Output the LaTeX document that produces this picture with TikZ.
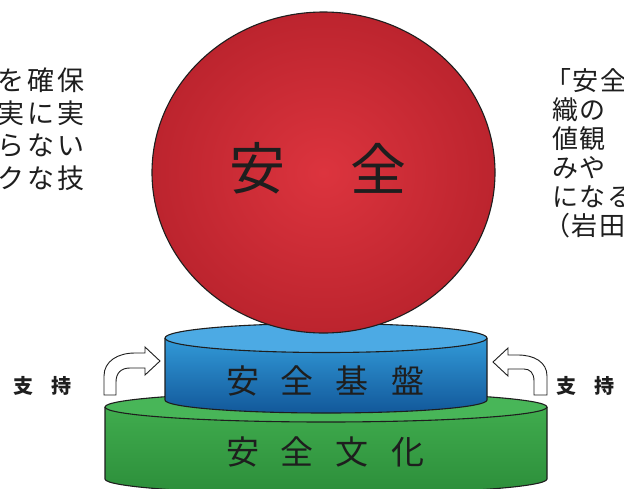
\documentclass[tikz,border=0pt]{standalone}
\usepackage{fontspec}
\newfontfamily\cjk{Noto Sans CJK JP}
\usetikzlibrary{shapes.geometric}
\definecolor{redin}{RGB}{220,52,62}
\definecolor{redout}{RGB}{188,36,46}
\definecolor{bluetop}{RGB}{76,170,228}
\definecolor{blueside1}{RGB}{50,154,216}
\definecolor{blueside2}{RGB}{18,88,154}
\definecolor{greentop}{RGB}{72,182,88}
\definecolor{greenside1}{RGB}{64,172,78}
\definecolor{greenside2}{RGB}{44,142,58}
\definecolor{ink}{RGB}{30,30,30}
\tikzset{
  outline/.style={draw=ink, line width=1.1pt},
  bigtext/.style={font=\cjk\fontsize{56}{60}\selectfont, text=ink, inner sep=0pt},
  layertext/.style={font=\cjk\fontsize{33}{36}\selectfont, text=ink, inner sep=0pt},
  lefttext/.style={font=\cjk\fontsize{27}{29}\selectfont, text=ink, inner sep=0pt},
  righttext/.style={font=\cjk\fontsize{26}{28}\selectfont, text=ink, inner sep=0pt},
  supporttext/.style={font=\cjk\bfseries\fontsize{20}{22}\selectfont, text=ink, inner sep=0pt},
  bentarrow/.style={fill=white, draw=ink, line width=0.9pt, line join=miter}
}
\newcommand{\gp}{\hspace{3pt}}
\newcommand{\gq}{\hspace{1.5pt}}
\begin{document}
\begin{tikzpicture}[x=1pt,y=-1pt]
\useasboundingbox (0,0) rectangle (624,488);
\clip (0,0) rectangle (624,488);
\fill[white] (0,0) rectangle (624,488);

% green cylinder (safety culture)
\shade[top color=greenside1, bottom color=greenside2]
  (105,407) -- (105,479) arc[start angle=180, end angle=360, x radius=221pt, y radius=15pt] -- (547,407) -- cycle;
\draw[outline] (105,407) -- (105,479) arc[start angle=180, end angle=360, x radius=221pt, y radius=15pt] -- (547,407);
\node[ellipse, outline, fill=greentop, minimum width=442pt, minimum height=30pt, inner sep=0pt] (greentopnode) at (326,407) {};

% blue cylinder (safety foundation)
\shade[top color=blueside1, bottom color=blueside2]
  (165,338) -- (165,400) arc[start angle=180, end angle=360, x radius=161pt, y radius=13pt] -- (487,338) -- cycle;
\draw[outline] (165,338) -- (165,400) arc[start angle=180, end angle=360, x radius=161pt, y radius=13pt] -- (487,338);
\node[ellipse, outline, fill=bluetop, minimum width=322pt, minimum height=29pt, inner sep=0pt] (bluetopnode) at (326,338) {};

% red ball (safety)
\node[ellipse, outline, inner color=redin, outer color=redout, minimum width=343pt, minimum height=321pt, inner sep=0pt] (ball) at (323.5,172.5) {};

\node[bigtext] (an) at (257,168) {安};
\node[bigtext] (zen) at (378,168) {全};

\node[layertext] (kiban) at (325,381) {安\hspace{22pt}全\hspace{22pt}基\hspace{22pt}盤};
\node[layertext] (bunka) at (325,452) {安\hspace{22pt}全\hspace{22pt}文\hspace{22pt}化};

% bent block arrows
\draw[bentarrow] (104,395) -- (104,376) .. controls (104,361) and (118,353) .. (135,353)
  -- (145,353) -- (145,347) -- (160,361) -- (145,375) -- (145,368) -- (130,368)
  .. controls (121,368) and (116,373) .. (116,382) -- (116,395) -- cycle;
\draw[bentarrow] (547,395) -- (547,376) .. controls (547,362) and (534,355) .. (518,355)
  -- (508,355) -- (508,348) -- (493,362) -- (508,376) -- (508,369) -- (524,369)
  .. controls (530,369) and (534,373) .. (534,381) -- (534,395) -- cycle;

\node[supporttext] (shijiL) at (42.5,386) {支\hspace{18pt}持};
\node[supporttext] (shijiR) at (585.5,386) {支\hspace{18pt}持};

% left text block (cut off by the left edge)
\node[lefttext, anchor=east] (l1) at (85,80) {を\gp 確\gp 保};
\node[lefttext, anchor=east] (l2) at (85,113) {実\gp に\gp 実};
\node[lefttext, anchor=east] (l3) at (85,146) {ら\gp な\gp い};
\node[lefttext, anchor=east] (l4) at (85,178) {ク\gp な\gp 技};

% right text block (cut off by the right edge)
\node[righttext, anchor=west] (r1) at (552,81) {\kern-7pt「\gq 安\gq 全};
\node[righttext, anchor=west] (r2) at (552,110) {織\gq の};
\node[righttext, anchor=west] (r3) at (552,139) {値\gq 観};
\node[righttext, anchor=west] (r4) at (552,168) {み\gq や};
\node[righttext, anchor=west] (r5) at (552,197) {に\gq な\gq る};
\node[righttext, anchor=west] (r6) at (552,226) {\kern-8pt（\gq 岩\gq 田};
\end{tikzpicture}
\end{document}
